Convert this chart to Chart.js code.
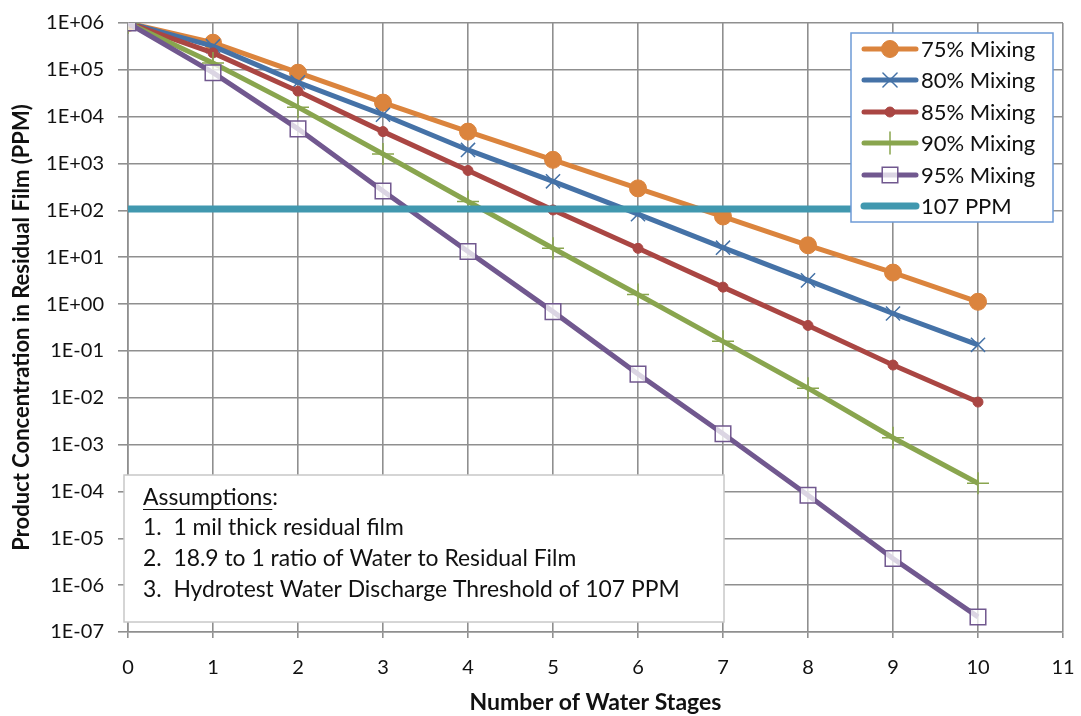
<!DOCTYPE html>
<html>
<head>
<meta charset="utf-8">
<script src="https://cdn.jsdelivr.net/npm/chart.js@4/dist/chart.umd.min.js"></script>
<style>
html,body{margin:0;padding:0;background:#fff;}
#wrap{width:1081px;height:716px;position:relative;}
canvas{display:block;}
</style>
</head>
<body>
<div id="wrap"><canvas id="c" width="1081" height="716"></canvas></div>
<script>
// ---- data ----
const stages = [0, 1, 2, 3, 4, 5, 6, 7, 8, 9, 10];
const mix75 = [1e6, 3.8e5, 8.7e4, 2.0e4, 4.8e3, 1.2e3, 295, 74, 18, 4.7, 1.12];
const mix80 = [1e6, 3.2e5, 5.4e4, 1.1e4, 1.95e3, 417, 83, 16, 3.2, 0.63, 0.135];
const mix85 = [1e6, 2.3e5, 3.5e4, 4.8e3, 710, 102, 15.5, 2.3, 0.35, 0.05, 0.0081];
const mix90 = [1e6, 1.4e5, 1.6e4, 1.6e3, 155, 15.5, 1.6, 0.16, 0.016, 0.0014, 1.5e-4];
const mix95 = [1e6, 8.7e4, 5.5e3, 2.6e2, 13.2, 0.69, 0.032, 1.7e-3, 8.3e-5, 3.7e-6, 2.1e-7];
const thresholdPPM = 107;
const seriesNames = ["75% Mixing", "80% Mixing", "85% Mixing", "90% Mixing", "95% Mixing", "107 PPM"];
const yTickExponents = [-7, -6, -5, -4, -3, -2, -1, 0, 1, 2, 3, 4, 5, 6];
const xTicks = [0, 1, 2, 3, 4, 5, 6, 7, 8, 9, 10, 11];
const assumptionsTitle = "Assumptions:";
const assumptionsLines = [
  "1.  1 mil thick residual film",
  "2.  18.9 to 1 ratio of Water to Residual Film",
  "3.  Hydrotest Water Discharge Threshold of 107 PPM"
];
const xTitle = "Number of Water Stages";
const yTitle = "Product Concentration in Residual Film (PPM)";

const FONT = "Lato, 'Open Sans', sans-serif";
const GRID = "#8f8f8f";
const TXT = "#111";

const mctx = document.createElement("canvas").getContext("2d");
function fitSize(text, weight, targetW) {
  mctx.font = weight + " 100px " + FONT;
  return 100 * targetW / mctx.measureText(text).width;
}

const toPts = arr => arr.map((v, i) => ({x: stages[i], y: v}));

function expLabel(v) {
  const e = Math.round(Math.log10(v));
  const s = e < 0 ? "-" : "+";
  const a = Math.abs(e);
  return "1E" + s + (a < 10 ? "0" + a : "" + a);
}

function build() {
  const legendSize = Math.min(22, fitSize(seriesNames[0], "normal", 115));
  const noteSize = Math.min(23, fitSize(assumptionsLines[2], "normal", 537));
  const xTitleSize = Math.min(23, fitSize(xTitle, "bold", 254));
  const yTitleSize = Math.min(22, fitSize(yTitle, "bold", 473));

  const datasets = [
    {label: seriesNames[0], data: toPts(mix75), borderColor: "#DB843D", backgroundColor: "#DB843D",
     borderWidth: 5, pointStyle: "circle", pointRadius: 8.5, pointBorderWidth: 1, order: 6},
    {label: seriesNames[1], data: toPts(mix80), borderColor: "#4572A7", backgroundColor: "#4572A7",
     borderWidth: 5, pointStyle: "crossRot", pointRadius: 10, pointBorderWidth: 1.5, order: 5},
    {label: seriesNames[2], data: toPts(mix85), borderColor: "#AA4643", backgroundColor: "#AA4643",
     borderWidth: 5, pointStyle: "circle", pointRadius: 5, pointBorderWidth: 1, order: 4},
    {label: seriesNames[3], data: toPts(mix90), borderColor: "#89A54E", backgroundColor: "#89A54E",
     borderWidth: 5, pointStyle: "cross", pointRadius: 11, pointBorderWidth: 1.5, order: 3},
    {label: seriesNames[4], data: toPts(mix95), borderColor: "#71588F", backgroundColor: "rgba(255,255,255,0.75)",
     borderWidth: 5, pointStyle: "rect", pointRadius: 11, pointBorderWidth: 1.5, pointBorderColor: "#71588F", order: 2},
    {label: seriesNames[5], data: stages.map(s => ({x: s, y: thresholdPPM})), borderColor: "#4198AF", backgroundColor: "#4198AF",
     borderWidth: 7, pointRadius: 0, order: 1}
  ];

  const legendPlugin = {
    id: "boxLegend",
    afterDraw(chart) {
      const ctx = chart.ctx;
      const L = 851, T = 33, R = 1053, B = 222;
      ctx.save();
      ctx.fillStyle = "#fff";
      ctx.fillRect(L, T, R - L, B - T);
      ctx.strokeStyle = "#6E9AD6";
      ctx.lineWidth = 1.5;
      ctx.strokeRect(L, T, R - L, B - T);
      const rowY = [49, 80, 112, 143, 175, 206];
      chart.data.datasets.forEach((ds, i) => {
        const y = rowY[i];
        ctx.strokeStyle = ds.borderColor;
        ctx.lineWidth = ds.borderWidth;
        ctx.lineCap = "round";
        ctx.beginPath();
        ctx.moveTo(864, y);
        ctx.lineTo(916, y);
        ctx.stroke();
        if (ds.pointRadius > 0) {
          ctx.fillStyle = ds.backgroundColor;
          ctx.strokeStyle = ds.pointBorderColor || ds.borderColor;
          ctx.lineWidth = ds.pointBorderWidth;
          Chart.helpers.drawPoint(ctx, {pointStyle: ds.pointStyle, rotation: 0, radius: ds.pointRadius, borderWidth: ds.pointBorderWidth}, 890, y);
        }
        ctx.fillStyle = TXT;
        ctx.font = legendSize + "px " + FONT;
        ctx.textBaseline = "middle";
        ctx.textAlign = "left";
        ctx.fillText(ds.label, 921, y + 1);
      });
      ctx.restore();
    }
  };

  const notePlugin = {
    id: "assumptions",
    afterDraw(chart) {
      const ctx = chart.ctx;
      const L = 124, T = 475, R = 724, B = 622;
      ctx.save();
      ctx.fillStyle = "#fff";
      ctx.fillRect(L, T, R - L, B - T);
      ctx.strokeStyle = "#c8c8c8";
      ctx.lineWidth = 1.5;
      ctx.strokeRect(L, T, R - L, B - T);
      ctx.fillStyle = TXT;
      ctx.font = noteSize + "px " + FONT;
      ctx.textBaseline = "middle";
      ctx.textAlign = "left";
      const x0 = 143;
      ctx.fillText(assumptionsTitle, x0, 498);
      const w = ctx.measureText(assumptionsTitle.slice(0, -1)).width;
      ctx.strokeStyle = TXT;
      ctx.lineWidth = 1.2;
      ctx.beginPath();
      ctx.moveTo(x0, 509.5);
      ctx.lineTo(x0 + w, 509.5);
      ctx.stroke();
      const ys = [528, 559, 590];
      assumptionsLines.forEach((t, i) => ctx.fillText(t, x0, ys[i]));
      ctx.restore();
    }
  };

  new Chart(document.getElementById("c"), {
    type: "scatter",
    data: {datasets: datasets},
    options: {
      responsive: false,
      animation: false,
      showLine: true,
      layout: {padding: {top: 23, right: 18, left: 0, bottom: 0}},
      plugins: {legend: {display: false}, tooltip: {enabled: false}},
      elements: {line: {tension: 0}},
      scales: {
        x: {
          type: "linear", min: 0, max: 11,
          afterBuildTicks: s => { s.ticks = xTicks.map(v => ({value: v})); },
          afterFit: s => { s.height = 84; s.paddingLeft = 0; s.paddingRight = 0; },
          grid: {color: GRID, lineWidth: 1.6, tickLength: 6, drawTicks: true},
          border: {color: GRID, width: 1.6},
          ticks: {color: TXT, font: {family: FONT, size: 20}, padding: 18, maxRotation: 0},
          title: {display: true, text: xTitle, color: TXT, font: {family: FONT, size: xTitleSize, weight: "bold"}, padding: {top: 0, bottom: 0}}
        },
        y: {
          type: "logarithmic", min: 1e-7, max: 1e6,
          afterBuildTicks: s => { s.ticks = yTickExponents.map(e => ({value: Math.pow(10, e)})); },
          afterFit: s => { s.width = 128; s.paddingTop = 0; s.paddingBottom = 0; },
          grid: {color: GRID, lineWidth: 1.6, tickLength: 10},
          border: {color: GRID, width: 1.6},
          ticks: {color: TXT, font: {family: FONT, size: 20}, padding: 14, callback: v => expLabel(v)},
          title: {display: true, text: yTitle, color: TXT, font: {family: FONT, size: yTitleSize, weight: "bold"}, padding: {top: 9, bottom: 4}}
        }
      }
    },
    plugins: [legendPlugin, notePlugin]
  });
}

const ready = (document.fonts && document.fonts.load)
  ? Promise.all([document.fonts.load("20px Lato"), document.fonts.load("bold 20px Lato")]).catch(() => {})
  : Promise.resolve();
ready.then(build, build);
</script>
</body>
</html>
